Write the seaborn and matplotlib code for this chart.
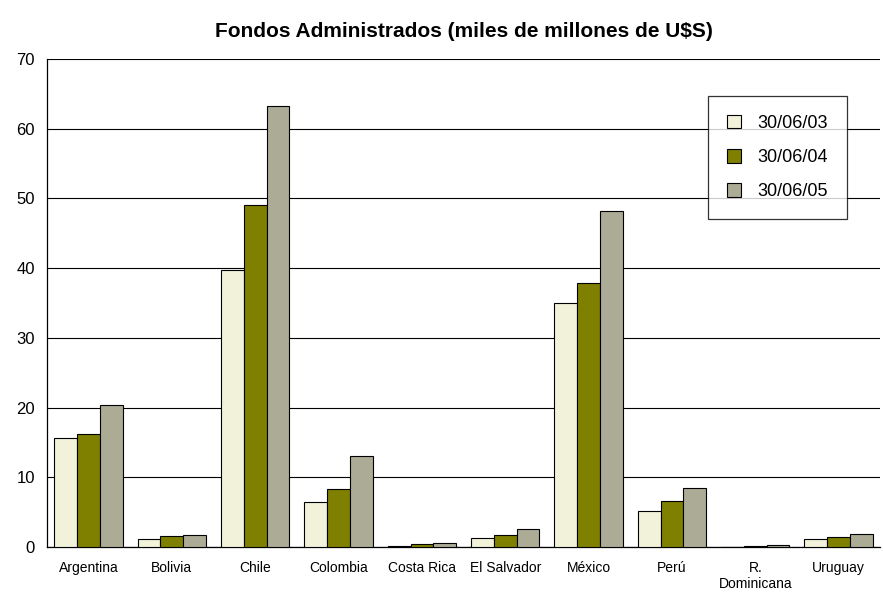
import pandas as pd
import seaborn as sns
import matplotlib.pyplot as plt

countries = ['Argentina', 'Bolivia', 'Chile', 'Colombia', 'Costa Rica', 'El Salvador',
             'México', 'Perú', 'R.\nDominicana', 'Uruguay']
fechas = ['30/06/03', '30/06/04', '30/06/05']
v03 = [15.6, 1.2, 39.7, 6.4, 0.2, 1.3, 35.0, 5.2, 0.0, 1.1]
v04 = [16.2, 1.6, 49.1, 8.3, 0.4, 1.8, 37.9, 6.6, 0.1, 1.4]
v05 = [20.4, 1.8, 63.3, 13.0, 0.6, 2.6, 48.2, 8.5, 0.3, 1.9]
colors = ['#F2F2DA', '#808000', '#ABAB96']

rows = []
for f, vals in zip(fechas, [v03, v04, v05]):
    for c, v in zip(countries, vals):
        rows.append({'Pais': c, 'Fecha': f, 'Valor': v})
df = pd.DataFrame(rows)

sns.set_style('white')
plt.rcParams['font.family'] = ['Liberation Sans', 'DejaVu Sans']
plt.rcParams['text.color'] = 'black'
plt.rcParams['xtick.color'] = 'black'
plt.rcParams['ytick.color'] = 'black'

fig = plt.figure(figsize=(8.83, 5.96), dpi=100)
ax = fig.add_axes([0.053, 0.082, 0.944, 0.819])

sns.barplot(data=df, x='Pais', y='Valor', hue='Fecha', palette=colors, saturation=1,
            width=0.82, edgecolor='black', linewidth=0.8, ax=ax, zorder=3)

ax.set_ylim(0, 70)
ax.set_xlim(-0.5, len(countries) - 0.5)
ax.set_yticks(range(0, 71, 10))
ax.yaxis.grid(True, color='black', linewidth=0.8, zorder=0)
ax.set_axisbelow(True)
for s in ['top', 'right']:
    ax.spines[s].set_visible(False)
for s in ['left', 'bottom']:
    ax.spines[s].set_color('black')
    ax.spines[s].set_linewidth(0.9)

ax.set_xticks([i + 0.5 for i in range(-1, len(countries))], minor=True)
ax.tick_params(axis='x', which='major', length=0, pad=10)
ax.tick_params(axis='x', which='minor', length=5, direction='out', width=0.8)
ax.tick_params(axis='y', length=5, direction='out', width=0.8, labelsize=12)
ax.set_xticklabels(countries, fontsize=10, family=['Liberation Sans Narrow', 'Liberation Sans'])
ax.set_xlabel('')
ax.set_ylabel('')

ax.set_title('Fondos Administrados (miles de millones de U$S)', fontsize=15,
             fontweight='bold', pad=16)

leg = ax.legend(title=None, loc='upper right', bbox_to_anchor=(0.96, 0.925),
                fontsize=13, frameon=True, fancybox=False, edgecolor='black',
                handlelength=0.8, handleheight=0.8, labelspacing=0.95,
                borderpad=1.05, handletextpad=0.9, borderaxespad=0)
leg.get_frame().set_linewidth(0.9)

fig.savefig('out.png', dpi=100)
